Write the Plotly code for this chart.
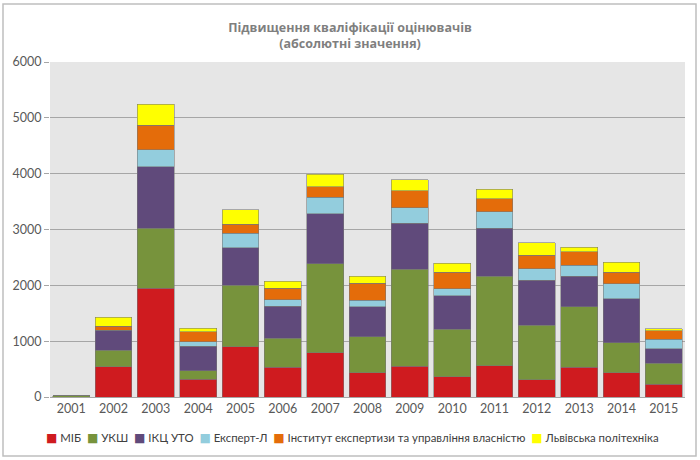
import plotly.graph_objects as go

years = ["2001","2002","2003","2004","2005","2006","2007","2008","2009","2010","2011","2012","2013","2014","2015"]
mib     = [0,   540, 1946, 321, 900, 530, 792, 435, 548, 363, 560, 308, 536, 435, 226]
uksh    = [20,  295, 1078, 149, 1100, 524, 1595, 642, 1744, 851, 1607, 978, 1083, 535, 381]
ikts    = [0,   360, 1101, 435, 673, 571, 893, 536, 821, 596, 857, 809, 548, 792, 256]
expert  = [0,   0,   304,  89,  261, 113, 297, 119, 280, 130, 297, 203, 190, 262, 167]
instyt  = [0,   70,  434,  179, 161, 214, 185, 304, 303, 292, 233, 244, 244, 208, 155]
lviv    = [0,   165, 381,  59,  256, 125, 232, 131, 191, 167, 166, 220, 84,  185, 41]

names = ["МІБ", "УКШ", "ІКЦ УТО", "Експерт-Л", "Інститут експертизи та управління власністю", "Львівська політехніка"]
series = [mib, uksh, ikts, expert, instyt, lviv]
colors = ["#CF1B1F", "#77933C", "#604A7B", "#93CDDD", "#E46C0A", "#FFFF00"]

fig = go.Figure()
for n, s, c in zip(names, series, colors):
    fig.add_trace(go.Bar(x=years, y=s, name=n, showlegend=False,
                         marker=dict(color=c, line=dict(color="rgba(120,120,120,0.7)", width=0.8))))

font_family = "Lato, Roboto, sans-serif"

# compact legend as a single line of text with coloured squares
legend_text = "&nbsp;&nbsp;".join(
    f"<span style='color:{c};font-family:DejaVu Sans;font-size:12px'>■</span> {n}"
    for n, c in zip(names, colors))

fig.update_layout(
    barmode="stack",
    bargap=0.13,
    width=700, height=460,
    margin=dict(l=50, r=15, t=62, b=63),
    paper_bgcolor="white",
    plot_bgcolor="#E6E6E6",
    title=dict(text="<b>Підвищення кваліфікації оцінювачів<br>(абсолютні значення)</b>",
               x=0.5, xanchor="center", xref="container", y=1 - 32/460, yanchor="middle", yref="container",
               font=dict(family="Open Sans, sans-serif", size=12.5, color="#7F7F7F")),
    font=dict(family=font_family, size=12, color="#404040"),
    showlegend=False,
    xaxis=dict(showgrid=False, showline=True, linecolor="#A6A6A6", tickfont=dict(size=12.5, color="#595959")),
    yaxis=dict(range=[0, 6000], dtick=1000, showgrid=True, gridcolor="#A6A6A6", gridwidth=1,
               ticks="outside", ticklen=5, tickcolor="#A6A6A6", zeroline=False,
               showline=False, tickfont=dict(size=12.5, color="#595959")),
    annotations=[dict(text=legend_text, xref="paper", yref="paper",
                      x=(352 - 50) / 635, y=-(438 - 397) / 335, xanchor="center", yanchor="middle",
                      showarrow=False, font=dict(family=font_family, size=11.4, color="#404040"))],
    shapes=[dict(type="rect", xref="paper", yref="paper",
                 x0=-47/635, x1=1 + 11/635, y0=-59/335, y1=1 + 58/335,
                 line=dict(color="#BFBFBF", width=1.5), layer="below")],
)

fig.write_html("out.html")
